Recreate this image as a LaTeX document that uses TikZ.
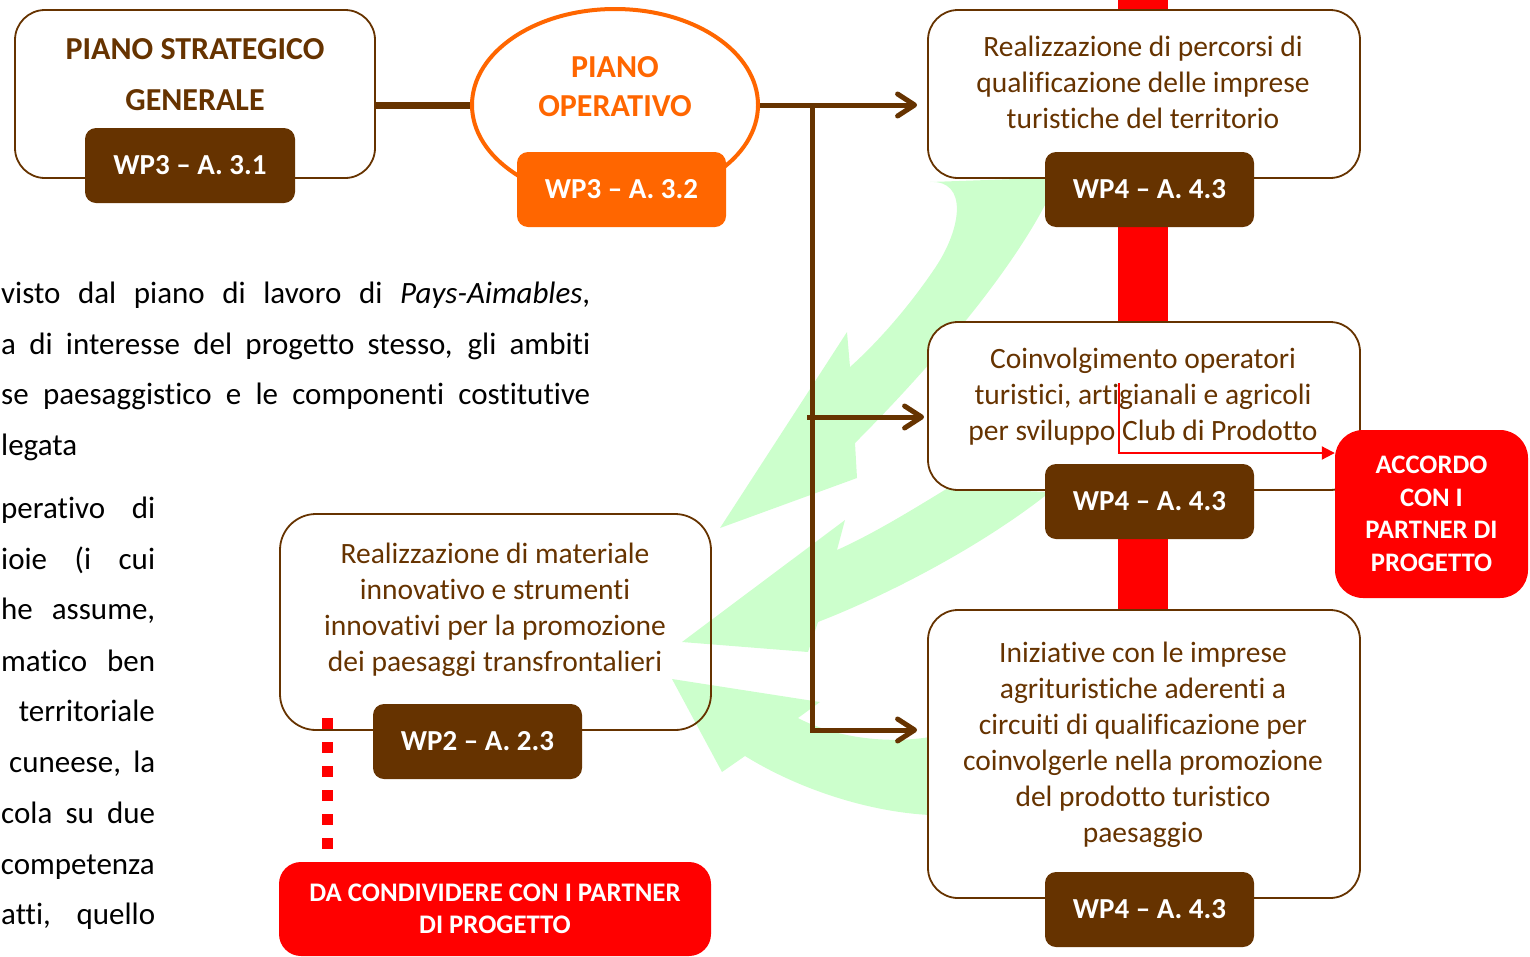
\documentclass[tikz,border=0pt]{standalone}
\usepackage{fontspec}
\setmainfont{Carlito}[Ligatures=NoCommon]
\usetikzlibrary{shapes.geometric,arrows.meta}
\definecolor{brn}{HTML}{663300}
\definecolor{org}{HTML}{FF6600}
\definecolor{rd}{HTML}{FF0000}
\definecolor{grn}{HTML}{CCFFCC}
\newcommand\fsz[2]{\fontsize{#1}{#2}\selectfont}

\begin{document}
\begin{tikzpicture}[x=1pt,y=-1pt,
  frame/.style={rectangle, draw=brn, line width=1.8pt, rounded corners=30pt, inner sep=0pt},
  tag/.style={rectangle, fill=brn, rounded corners=11pt, minimum width=209pt, minimum height=75pt,
              inner sep=0pt, text=white, font=\fsz{29}{34}\bfseries},
  body/.style={anchor=north, align=center, text=brn, inner sep=0pt, font=\fsz{29.5}{36}},
  title/.style={anchor=north, align=center, inner sep=0pt},
  link/.style={draw=brn, line width=5pt},
  tip/.style={-{Straight Barb[length=17pt,width=22pt,round]}},
  alert/.style={rectangle, fill=rd, text=white, align=center, inner sep=0pt},
  para/.style={inner sep=0pt, text=black, font=\fsz{31}{36}},
  leaf/.style={fill=grn}
]
\useasboundingbox (0,0) rectangle (1530,956);

% running text of the page beside the chart
\node[para, anchor=base west] (t1) at (1,303) {\hbox to 589pt{visto dal piano di lavoro di \textit{Pays-Aimables},}};
\node[para, anchor=base west] (t2) at (1,354) {\hbox to 589pt{a di interesse del progetto stesso, gli ambiti}};
\node[para, anchor=base west] (t3) at (1,404) {\hbox to 589pt{se paesaggistico e le componenti costitutive}};
\node[para, anchor=base west] (t4) at (1,455) {legata};

\node[para, anchor=base west] (u1) at (1,518) {\hbox to 154pt{perativo di}};
\node[para, anchor=base west] (u2) at (1,569) {\hbox to 154pt{ioie (i cui}};
\node[para, anchor=base west] (u3) at (1,619) {\hbox to 154pt{he assume,}};
\node[para, anchor=base west] (u4) at (1,671) {\hbox to 154pt{matico ben}};
\node[para, anchor=base east] (u5) at (155,721) {territoriale};
\node[para, anchor=base west] (u6) at (9,772) {\hbox to 146pt{cuneese, la}};
\node[para, anchor=base west] (u7) at (1,823) {\hbox to 154pt{cola su due}};
\node[para, anchor=base east] (u8) at (155,874) {competenza};
\node[para, anchor=base west] (u9) at (1,924) {\hbox to 154pt{atti, quello}};

% red band running behind the WP4 column
\coordinate (bar0) at (1143,-2);
\coordinate (bar1) at (1143,615);
\draw[rd, line width=50pt] (bar0) -- (bar1);

% light green feedback arrows
\fill[leaf] (930,182) .. controls (968,180) and (962,228) .. (935,268)
  .. controls (910,305) and (880,340) .. (850,367) -- (847,332) -- (720,528) -- (857,478) -- (855,443)
  .. controls (910,388) and (1000,290) .. (1045,205) -- (1045,178) -- cycle;
\fill[leaf] (948,488) .. controls (915,508) and (875,533) .. (837,550) -- (845,520) -- (682,642)
  -- (808,652) -- (818,622) .. controls (900,590) and (990,540) .. (1050,492) -- cycle;
\fill[leaf] (930,737) .. controls (880,745) and (830,735) .. (798,718) -- (820,702) -- (672,679)
  -- (722,772) -- (745,756) .. controls (800,790) and (870,812) .. (930,815) -- cycle;

% frames
\node[frame, fill=white, minimum width=360pt, minimum height=168pt] (psg) at (195,94) {};
\node[frame, fill=white, minimum width=432pt, minimum height=168pt] (bA) at (1144,94) {};
\node[frame, fill=white, minimum width=432pt, minimum height=168pt] (bB) at (1144,406) {};
\node[frame, fill=white, minimum width=432pt, minimum height=288pt] (bC) at (1144,754) {};
\node[frame, minimum width=431pt, minimum height=216pt, rounded corners=36pt] (bD) at (495.5,622) {};
\node[ellipse, draw=org, line width=4pt, fill=white, minimum width=286pt, minimum height=192pt, inner sep=0pt] (po) at (615,105) {};

% texts of the frames
\node[title, text=brn, font=\fsz{32}{51}\bfseries] (psgT) at (195,38.7) {PIANO STRATEGICO\\GENERALE};
\node[title, text=org, font=\fsz{32}{39}\bfseries] (poT) at (615,56.7) {PIANO\\OPERATIVO};
\node[body] (bAT) at (1143,35.8) {Realizzazione di percorsi di\\qualificazione delle imprese\\turistiche del territorio};
\node[body] (bBT) at (1143,347.8) {Coinvolgimento operatori\\turistici, artigianali e agricoli\\per sviluppo Club di Prodotto};
\node[body] (bCT) at (1143,641.8) {Iniziative con le imprese\\agrituristiche aderenti a\\circuiti di qualificazione per\\coinvolgerle nella promozione\\del prodotto turistico\\paesaggio};
\node[body] (bDT) at (495,542.8) {Realizzazione di materiale\\innovativo e strumenti\\innovativi per la promozione\\dei paesaggi transfrontalieri};

% activity tags
\node[tag, minimum width=210pt] (g1) at (190,165.5) {WP3 -- A. 3.1};
\node[tag, fill=org] (g2) at (621.5,189.5) {WP3 -- A. 3.2};
\node[tag] (gA) at (1149.5,189.5) {WP4 -- A. 4.3};
\node[tag] (gB) at (1149.5,501.5) {WP4 -- A. 4.3};
\node[tag] (gC) at (1149.5,909.5) {WP4 -- A. 4.3};
\node[tag] (gD) at (477.5,741.5) {WP2 -- A. 2.3};

% red call-outs
\node[alert, rounded corners=28pt, minimum width=193pt, minimum height=168pt,
      font=\fsz{26.7}{32.5}\bfseries] (acc) at (1431.5,514) {ACCORDO\\CON I\\PARTNER DI\\PROGETTO};
\node[alert, rounded corners=22pt, minimum width=432pt, minimum height=94pt,
      font=\fsz{26.8}{32}\bfseries] (dac) at (495,909) {DA CONDIVIDERE CON I PARTNER\\DI PROGETTO};

% brown connectors
\coordinate (j0) at (812,105);
\coordinate (j1) at (807,417);
\coordinate (j2) at (812,730);
\draw[link, line width=7pt] (psg.east |- po.west) -- (po.west);
\draw[link] (po.east) -- (j0);
\draw[link, tip] (j0) -- ([xshift=-10pt]j0 -| bA.west);
\draw[link, tip] (j1) -- ([xshift=-3pt]j1 -| bB.west);
\draw[link, tip] (j0) -- (j2) -- ([xshift=-10pt]j2 -| bC.west);

% red links to the partners
\coordinate (r0) at (1119,383);
\coordinate (r1) at (1119,453);
\draw[rd, line width=2pt, -{Triangle[length=13pt,width=13pt]}] (r0) -- (r1) -- (r1 -| acc.west);
\coordinate (d0) at (327,718);
\draw[rd, line width=11pt, dash pattern=on 11pt off 13pt] (d0) -- ([yshift=11pt]d0 |- dac.north);
\end{tikzpicture}
\end{document}
